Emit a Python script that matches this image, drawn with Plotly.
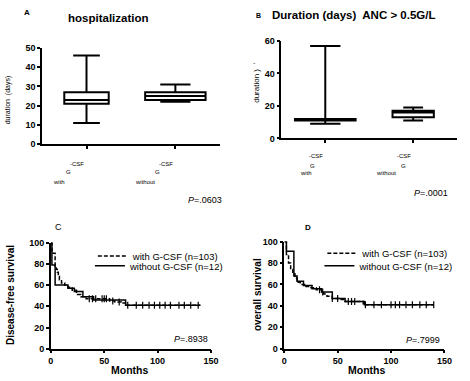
import plotly.graph_objects as go

W, H = 470, 381
def dx(p): return p / W
def dy(p): return 1 - p / H

FONT = "Liberation Sans, Arial, sans-serif"

# ---------------- data ----------------
groups = ["with G-CSF", "without G-CSF"]
# A: hospitalization (days)
hosp_min = [11, 22]
hosp_q1 = [21, 23]
hosp_med = [23, 25]
hosp_q3 = [27, 27]
hosp_max = [46, 31]
# B: duration (days) ANC > 0.5 G/L
anc_min = [9, 11]
anc_q1 = [11, 13]
anc_med = [11.5, 16]
anc_q3 = [12, 17]
anc_max = [57, 19]

# C: disease-free survival (Kaplan-Meier steps)
c_with_t = [0, 1, 4, 5, 6, 7, 8, 10, 13, 16, 20, 24, 28, 33, 45, 55, 60, 66, 70, 140]
c_with_s = [100, 90, 78, 75, 72, 68, 65, 62, 60, 58, 55, 51, 49, 47, 47, 45, 44, 43, 41, 41]
c_wo_t = [0, 1, 4, 16, 22, 30, 40, 70, 140]
c_wo_s = [100, 79, 60, 57, 54, 49, 46, 41, 41]
c_cens_t = [36, 39, 42, 48, 50, 52, 58, 64, 72, 80, 86, 92, 97, 102, 107, 112, 120, 125, 131, 138]

# D: overall survival
d_with_t = [0, 2, 4, 6, 8, 10, 12, 15, 19, 24, 30, 35, 37, 40, 45, 52, 57, 74, 140]
d_with_s = [100, 88, 80, 74, 70, 66, 62, 60, 58, 57, 55, 53, 51, 49, 47, 46, 44, 41, 41]
d_wo_t = [0, 2, 9, 12, 18, 26, 35, 45, 57, 75, 140]
d_wo_s = [100, 91, 68, 63, 59, 56, 53, 47, 44, 41, 41]
d_cens_t = [33, 36, 45, 50, 60, 63, 66, 76, 84, 91, 100, 104, 108, 114, 120, 127, 133, 140]

def step_at(ts, ss, t):
    v = ss[0]
    for ti, si in zip(ts, ss):
        if ti <= t:
            v = si
    return v

fig = go.Figure()

# ---------- box plots ----------
box_w_A = [0.5, 0.68]
wh_A = [0.6, 0.5]
for i in range(2):
    fig.add_trace(go.Box(
        x=[i], q1=[hosp_q1[i]], median=[hosp_med[i]], q3=[hosp_q3[i]],
        lowerfence=[hosp_min[i]], upperfence=[hosp_max[i]],
        width=box_w_A[i], whiskerwidth=wh_A[i], fillcolor="white",
        line=dict(color="black", width=2), showlegend=False,
        xaxis="x", yaxis="y", name=groups[i]))
box_w_B = [0.69, 0.47]
wh_B = [0.5, 0.48]
for i in range(2):
    fig.add_trace(go.Box(
        x=[i], q1=[anc_q1[i]], median=[anc_med[i]], q3=[anc_q3[i]],
        lowerfence=[anc_min[i]], upperfence=[anc_max[i]],
        width=box_w_B[i], whiskerwidth=wh_B[i], fillcolor="white",
        line=dict(color="black", width=2), showlegend=False,
        xaxis="x2", yaxis="y2", name=groups[i]))

# ---------- KM curves ----------
DASH = "4px,2px"
def km(ts, ss, name, dash, xa, ya, leg):
    fig.add_trace(go.Scatter(
        x=ts, y=ss, mode="lines", line=dict(color="black", width=1.5, dash=dash, shape="hv"),
        name=name, xaxis=xa, yaxis=ya, legend=leg, showlegend=True))

km(c_with_t, c_with_s, "with G-CSF (n=103)", DASH, "x3", "y3", "legend")
km(c_wo_t, c_wo_s, "without G-CSF (n=12)", "solid", "x3", "y3", "legend3")
km(d_with_t, d_with_s, "with G-CSF (n=103)", DASH, "x4", "y4", "legend2")
km(d_wo_t, d_wo_s, "without G-CSF (n=12)", "solid", "x4", "y4", "legend4")

fig.add_trace(go.Scatter(
    x=c_cens_t, y=[step_at(c_with_t, c_with_s, t) for t in c_cens_t], mode="markers",
    marker=dict(symbol="line-ns", size=5, line=dict(color="black", width=1.2)),
    xaxis="x3", yaxis="y3", showlegend=False))
fig.add_trace(go.Scatter(
    x=d_cens_t, y=[step_at(d_with_t, d_with_s, t) for t in d_cens_t], mode="markers",
    marker=dict(symbol="line-ns", size=5, line=dict(color="black", width=1.2)),
    xaxis="x4", yaxis="y4", showlegend=False))

tickfont = dict(family=FONT, size=9, color="black", weight="bold")
common = dict(showline=True, linecolor="black", linewidth=1.5, ticks="outside",
              ticklen=3, tickwidth=1.5, tickcolor="black", showgrid=False,
              zeroline=False, tickfont=tickfont, fixedrange=True)

legfont = dict(family=FONT, size=9.5, color="black")
def leg(x, top):
    return dict(x=dx(x), y=dy(top), xanchor="left", yanchor="top",
                bgcolor="rgba(0,0,0,0)", font=legfont, itemwidth=30, tracegroupgap=0)

fig.update_layout(
    width=W, height=H, margin=dict(l=0, r=0, t=0, b=0),
    paper_bgcolor="white", plot_bgcolor="white",
    font=dict(family=FONT, color="black"),
    xaxis=dict(domain=[dx(40), dx(222)], anchor="y", range=[-0.5, 1.5],
               tickvals=[0, 1], ticktext=["", ""], **common),
    yaxis=dict(domain=[dy(143), dy(44)], anchor="x", range=[0, 50],
               tickvals=[0, 10, 20, 30, 40, 50], **common),
    xaxis2=dict(domain=[dx(285), dx(465)], anchor="y2", range=[-0.5, 1.5],
                tickvals=[0, 1], ticktext=["", ""], **common),
    yaxis2=dict(domain=[dy(137), dy(37)], anchor="x2", range=[0, 60],
                tickvals=[0, 20, 40, 60], **common),
    xaxis3=dict(domain=[dx(49), dx(213)], anchor="y3", range=[0, 150],
                tickvals=[0, 50, 100, 150], **common),
    yaxis3=dict(domain=[dy(353), dy(244)], anchor="x3", range=[0, 100],
                tickvals=[0, 20, 40, 60, 80, 100], **common),
    xaxis4=dict(domain=[dx(288), dx(452)], anchor="y4", range=[0, 150],
                tickvals=[0, 50, 100, 150], **common),
    yaxis4=dict(domain=[dy(353), dy(243)], anchor="x4", range=[0, 100],
                tickvals=[0, 20, 40, 60, 80, 100], **common),
    legend=leg(92, 243),
    legend3=leg(89, 253),
    legend2=leg(327, 240),
    legend4=leg(324, 253),
)

ann = []
def txt(x, y, s, size=9, bold=False, angle=0, xanchor="center"):
    ann.append(dict(x=dx(x), y=dy(y), xref="paper", yref="paper", text=s, showarrow=False,
                    textangle=angle, xanchor=xanchor, yanchor="middle",
                    font=dict(family=FONT, size=size, color="black",
                              weight="bold" if bold else "normal")))

txt(25, 8, "A", 8, True)
txt(108, 13, "hospitalization", 11.5, True)
txt(262, 11, "B", 7, True)
txt(359, 10, "Duration (days)  ANC > 0.5G/L", 11.5, True)
txt(6, 97, "duration  (days)", 7, angle=-90)
txt(260, 80, "duration )  ʹ", 8, angle=-90)
# category labels
txt(76, 163, "-CSF", 6); txt(167, 163, "-CSF", 6)
txt(67, 172, "G", 6); txt(158, 172, "G", 6)
txt(57, 182, "with", 6); txt(145, 182, "without", 6)
txt(320, 155, "-CSF", 6); txt(411, 155, "-CSF", 6)
txt(317, 165, "G", 6); txt(410, 165, "G", 6)
txt(310, 173, "with", 6); txt(392, 173, "without", 6)
# P values
txt(207, 200, "<i>P</i>=.0603", 9)
txt(438, 193, "<i>P</i>=.0001", 9)
txt(192, 343, "<i>P</i>=.8938", 9)
txt(430, 344, "<i>P</i>=.7999", 9)
# panel labels, axis titles
txt(57, 228, "C", 9)
txt(312, 229, "D", 8, True)
txt(7, 298, "Disease-free survival", 10, True, angle=-90)
txt(260, 297, "overall survival", 10, True, angle=-90)
txt(130, 375, "Months", 10.5, True)
txt(372, 375, "Months", 10.5, True)

fig.update_layout(annotations=ann)
fig.write_html("out.html", config={"displayModeBar": False},
               post_script="document.body.style.margin='0px';")
